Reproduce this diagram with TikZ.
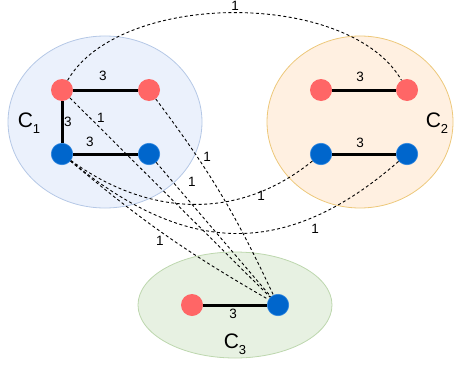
\documentclass[tikz,border=0pt]{standalone}
\usepackage{fontspec}
\setmainfont{Liberation Sans}
\usetikzlibrary{shapes.geometric}
\definecolor{cred}{HTML}{FF6666}
\definecolor{cblue}{HTML}{0066CC}
\definecolor{cblueedge}{HTML}{2E86E0}
\definecolor{fillA}{HTML}{EBF1FC}
\definecolor{drawA}{HTML}{B5C8E6}
\definecolor{fillB}{HTML}{FFF0E1}
\definecolor{drawB}{HTML}{EDC87A}
\definecolor{fillC}{HTML}{E7F1E2}
\definecolor{drawC}{HTML}{BDD7AE}
\tikzset{
  cluster/.style={ellipse, line width=0.8pt, inner sep=0pt},
  rednode/.style={circle, fill=cred, minimum size=22pt, inner sep=0pt},
  bluenode/.style={circle, fill=cblue, draw=cblueedge, line width=0.6pt, minimum size=21.5pt, inner sep=0pt},
  solidedge/.style={line width=3pt, black},
  dashededge/.style={dash pattern=on 3pt off 2.5pt, line width=0.9pt, black},
  lbl/.style={font=\fontsize{13.5}{14}\selectfont, inner sep=0pt},
  clbl/.style={font=\fontsize{21}{22}\selectfont, inner sep=0pt},
}
\newcommand{\clabel}[1]{C\raisebox{-0.3em}{\fontsize{13}{13}\selectfont #1}}
\begin{document}
\begin{tikzpicture}[x=1pt,y=-1pt]
\useasboundingbox (0,0) rectangle (454,369);
% clusters
\node[cluster, fill=fillA, draw=drawA, minimum width=194pt, minimum height=172pt] (C1) at (105,122) {};
\node[cluster, fill=fillB, draw=drawB, minimum width=186pt, minimum height=172pt] (C2) at (360,122) {};
\node[cluster, fill=fillC, draw=drawC, minimum width=194pt, minimum height=106pt] (C3) at (235,305) {};
% vertices
\node[rednode] (a1) at (62,90) {};
\node[rednode] (a2) at (149,90) {};
\node[bluenode] (a3) at (62,154) {};
\node[bluenode] (a4) at (149,154) {};
\node[rednode] (b1) at (321,90) {};
\node[rednode] (b2) at (407,90) {};
\node[bluenode] (b3) at (321,154) {};
\node[bluenode] (b4) at (407,154) {};
\node[rednode] (c1) at (192,305) {};
\node[bluenode] (c2) at (278,305) {};
% cluster labels
\node[clbl] (L1) at (29,123) {\clabel{1}};
\node[clbl] (L2) at (437,123) {\clabel{2}};
\node[clbl] (L3) at (235,344) {\clabel{3}};
% dashed inter-cluster edges
\draw[dashededge] (a1) .. controls (120,-10) and (350,-10) .. (b2);
\draw[dashededge] (a1) -- (c2);
\draw[dashededge] (a2) to[bend left=6] (c2);
\draw[dashededge] (a4) -- (c2);
\draw[dashededge] (a3) to[bend right=5] (c2);
\draw[dashededge] (a3) .. controls (150,218) and (240,220) .. (b3);
\draw[dashededge] (a3) .. controls (180,250) and (280,265) .. (b4);
% solid intra-cluster edges
\draw[solidedge] (a1) -- (a2);
\draw[solidedge] (a1) -- (a3);
\draw[solidedge] (a3) -- (a4);
\draw[solidedge] (b1) -- (b2);
\draw[solidedge] (b3) -- (b4);
\draw[solidedge] (c1) -- (c2);
% weights
\node[lbl] (w1) at (103,76) {3};
\node[lbl] (w2) at (68,122) {3};
\node[lbl] (w3) at (90,142) {3};
\node[lbl] (w4) at (360,77) {3};
\node[lbl] (w5) at (360,143) {3};
\node[lbl] (w6) at (233,314) {3};
\node[lbl] (d1) at (235,6) {1};
\node[lbl] (d2) at (101,118) {1};
\node[lbl] (d3) at (207,157) {1};
\node[lbl] (d4) at (192,182) {1};
\node[lbl] (d5) at (160,241) {1};
\node[lbl] (d6) at (261,196) {1};
\node[lbl] (d7) at (315,229) {1};
\end{tikzpicture}
\end{document}
